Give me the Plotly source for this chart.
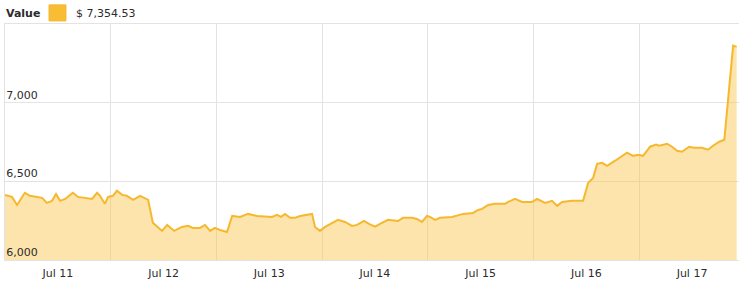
import plotly.graph_objects as go

times = [
    "2018-07-11 00:00", "2018-07-11 01:35", "2018-07-11 02:45", "2018-07-11 04:30", "2018-07-11 05:40",
    "2018-07-11 07:15", "2018-07-11 08:25", "2018-07-11 09:30", "2018-07-11 10:40", "2018-07-11 11:35",
    "2018-07-11 12:30", "2018-07-11 13:40", "2018-07-11 15:25", "2018-07-11 16:35", "2018-07-11 18:35",
    "2018-07-11 19:45", "2018-07-11 20:55", "2018-07-11 21:35", "2018-07-11 22:40", "2018-07-11 23:25",
    "2018-07-12 00:30", "2018-07-12 01:25", "2018-07-12 02:35", "2018-07-12 03:40", "2018-07-12 05:05",
    "2018-07-12 06:40", "2018-07-12 08:30", "2018-07-12 09:35", "2018-07-12 11:40", "2018-07-12 12:50",
    "2018-07-12 14:25", "2018-07-12 16:10", "2018-07-12 17:35", "2018-07-12 18:40", "2018-07-12 20:15",
    "2018-07-12 21:25", "2018-07-12 22:35", "2018-07-12 23:40",
    "2018-07-13 00:50", "2018-07-13 02:25", "2018-07-13 03:35", "2018-07-13 05:25", "2018-07-13 07:10",
    "2018-07-13 09:15", "2018-07-13 12:38", "2018-07-13 13:45", "2018-07-13 14:40", "2018-07-13 15:35",
    "2018-07-13 16:45", "2018-07-13 17:50", "2018-07-13 19:00", "2018-07-13 21:43", "2018-07-13 22:24",
    "2018-07-13 23:32",
    "2018-07-14 00:40", "2018-07-14 02:15", "2018-07-14 03:37", "2018-07-14 05:13", "2018-07-14 06:48",
    "2018-07-14 07:56", "2018-07-14 09:31", "2018-07-14 10:39", "2018-07-14 12:01", "2018-07-14 13:09",
    "2018-07-14 14:58", "2018-07-14 17:14", "2018-07-14 18:22", "2018-07-14 20:25", "2018-07-14 21:33",
    "2018-07-14 22:41", "2018-07-14 23:49",
    "2018-07-15 00:30", "2018-07-15 01:39", "2018-07-15 02:47", "2018-07-15 05:31", "2018-07-15 08:01",
    "2018-07-15 10:17", "2018-07-15 11:25", "2018-07-15 12:20", "2018-07-15 13:41", "2018-07-15 15:17",
    "2018-07-15 17:33", "2018-07-15 18:14", "2018-07-15 19:49", "2018-07-15 21:25", "2018-07-15 22:47",
    "2018-07-15 23:41",
    "2018-07-16 00:49", "2018-07-16 02:38", "2018-07-16 04:13", "2018-07-16 05:22", "2018-07-16 06:30",
    "2018-07-16 08:46", "2018-07-16 11:16", "2018-07-16 12:24", "2018-07-16 13:32", "2018-07-16 14:27",
    "2018-07-16 15:35", "2018-07-16 16:43", "2018-07-16 18:32", "2018-07-16 19:40", "2018-07-16 21:15",
    "2018-07-16 22:37", "2018-07-16 23:45",
    "2018-07-17 00:53", "2018-07-17 02:29", "2018-07-17 03:50", "2018-07-17 04:31", "2018-07-17 06:20",
    "2018-07-17 07:28", "2018-07-17 08:36", "2018-07-17 09:44", "2018-07-17 11:20", "2018-07-17 12:28",
    "2018-07-17 14:17", "2018-07-17 15:38", "2018-07-17 16:46", "2018-07-17 18:12", "2018-07-17 19:20",
    "2018-07-17 21:20", "2018-07-17 22:08",
]

values = [
    6414, 6401, 6350, 6427, 6408,
    6401, 6395, 6363, 6376, 6420,
    6376, 6388, 6427, 6401, 6395,
    6388, 6427, 6408, 6357, 6401,
    6408, 6440, 6414, 6408, 6382,
    6408, 6382, 6236, 6185, 6223,
    6185, 6210, 6217, 6204, 6204,
    6223, 6185, 6204,
    6191, 6178, 6280, 6274, 6293,
    6280, 6274, 6287, 6274, 6293,
    6268, 6268, 6280, 6293, 6210,
    6185,
    6210, 6236, 6255, 6242, 6217,
    6223, 6248, 6229, 6212, 6230,
    6255, 6248, 6268, 6268, 6261,
    6242, 6280,
    6274, 6255, 6268, 6274, 6293,
    6299, 6318, 6325, 6350, 6357,
    6357, 6369, 6388, 6369, 6369,
    6369,
    6388, 6363, 6376, 6344, 6369,
    6376, 6376, 6490, 6522, 6611,
    6618, 6599, 6631, 6650, 6682,
    6662, 6669,
    6662, 6720, 6733, 6726, 6739,
    6720, 6694, 6688, 6720, 6713,
    6713, 6701, 6726, 6752, 6764,
    7363, 7354.53,
]

y_tickvals = [6000, 6500, 7000, 7500]
y_ticktext = ["6,000", "6,500", "7,000", ""]
series_name = "Value"
last_value_label = "$ 7,354.53"

LINE = "#F5B82E"
FILL = "rgba(249, 196, 72, 0.45)"
GRID = "#E3E3E3"
TEXT = "#2b2b2b"
FONT = "DejaVu Sans"

fig = go.Figure()
fig.add_trace(go.Scatter(
    x=times, y=values, mode="lines",
    line=dict(color=LINE, width=2),
    fill="tozeroy", fillcolor=FILL,
    hoverinfo="x+y", showlegend=False,
))

fig.update_layout(
    width=739, height=290,
    margin=dict(l=5, r=0, t=24, b=30),
    paper_bgcolor="white", plot_bgcolor="white",
    font=dict(family=FONT, size=11, color=TEXT),
    xaxis=dict(
        type="date",
        range=["2018-07-11 00:00", "2018-07-17 22:40"],
        tick0="2018-07-11", dtick=86400000,
        ticklabelmode="period", tickformat="%b %d",
        ticklabelstandoff=3,
        showgrid=True, gridcolor=GRID, gridwidth=1,
        ticks="", showline=True, linecolor=GRID, linewidth=1, mirror=True,
        zeroline=False,
        tickfont=dict(family=FONT, size=11, color=TEXT),
    ),
    yaxis=dict(
        range=[6000, 7500],
        tickvals=y_tickvals, ticktext=y_ticktext,
        ticklabelposition="inside top",
        showgrid=True, gridcolor=GRID, gridwidth=1,
        ticks="", showline=True, linecolor=GRID, linewidth=1,
        zeroline=False,
        tickfont=dict(family=FONT, size=11, color=TEXT),
    ),
    annotations=[
        dict(text="<b>" + series_name + "</b>", xref="paper", yref="paper",
             x=-0.001, y=1.0, yshift=11, xanchor="left", yanchor="middle",
             showarrow=False, font=dict(family=FONT, size=11, color=TEXT)),
        dict(text=last_value_label, xref="paper", yref="paper",
             x=0.094, y=1.0, yshift=11, xanchor="left", yanchor="middle",
             showarrow=False, font=dict(family=FONT, size=11, color=TEXT)),
    ],
    shapes=[
        dict(type="rect", xref="paper", yref="paper",
             x0=0.060, x1=0.083, y0=1.013, y1=1.081,
             fillcolor="#F8BD33", line=dict(color="#F3B62A", width=1)),
    ],
)

fig.write_html("out.html")
